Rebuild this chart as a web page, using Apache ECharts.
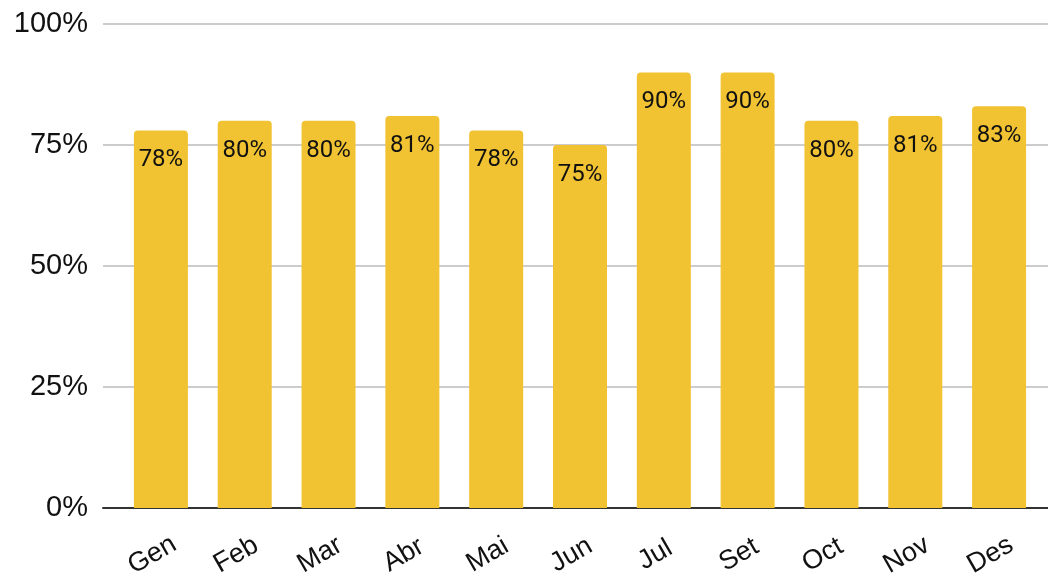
<!DOCTYPE html>
<html><head><meta charset="utf-8">
<script src="https://cdn.jsdelivr.net/npm/echarts@6/dist/echarts.min.js"></script>
<style>html,body{margin:0;padding:0;background:#fff}#c{width:1048px;height:582px}</style>
</head><body><div id="c"></div>
<script>
const categories = ['Gen','Feb','Mar','Abr','Mai','Jun','Jul','Set','Oct','Nov','Des'];
const values = [78,80,80,81,78,75,90,90,80,81,83];
const yTicks = [0,25,50,75,100];

const chart = echarts.init(document.getElementById('c'));
chart.setOption({
  animation: false,
  grid: [
    {left: 103, right: 0, top: 24, bottom: 74},
    {left: 119, right: 7, top: 24, bottom: 74}
  ],
  xAxis: [
    {gridIndex: 0, type: 'value', min: 0, max: 1, axisLabel: {show: false}, axisTick: {show: false}, splitLine: {show: false},
     axisLine: {show: true, onZero: false, lineStyle: {color: '#333', width: 2}}},
    {gridIndex: 1, type: 'category', data: categories, axisTick: {show: false}, axisLine: {show: false},
     axisLabel: {rotate: 30, align: 'center', verticalAlign: 'middle', margin: 42, padding: [0, 20, 0, 0],
       fontFamily: 'Liberation Sans, Arial', fontSize: 27, color: '#111'}}
  ],
  yAxis: [
    {gridIndex: 0, type: 'value', min: 0, max: 100, interval: 25,
     axisLine: {show: false}, axisTick: {show: false},
     axisLabel: {formatter: v => v + '%', fontFamily: 'Liberation Sans, Arial', fontSize: 29, color: '#111', margin: 15},
     splitLine: {lineStyle: {color: '#cccccc', width: 2}}},
    {gridIndex: 1, type: 'value', min: 0, max: 100, interval: 25, show: false, splitLine: {show: false}}
  ],
  series: [{
    type: 'bar', xAxisIndex: 1, yAxisIndex: 1, data: values, barWidth: 54,
    itemStyle: {color: '#F1C232', borderRadius: [4, 4, 0, 0]},
    label: {show: true, position: 'insideTop', distance: 18, formatter: p => p.value + '%',
      fontFamily: 'Roboto', fontSize: 24, color: '#111'}
  }]
});
</script></body></html>
